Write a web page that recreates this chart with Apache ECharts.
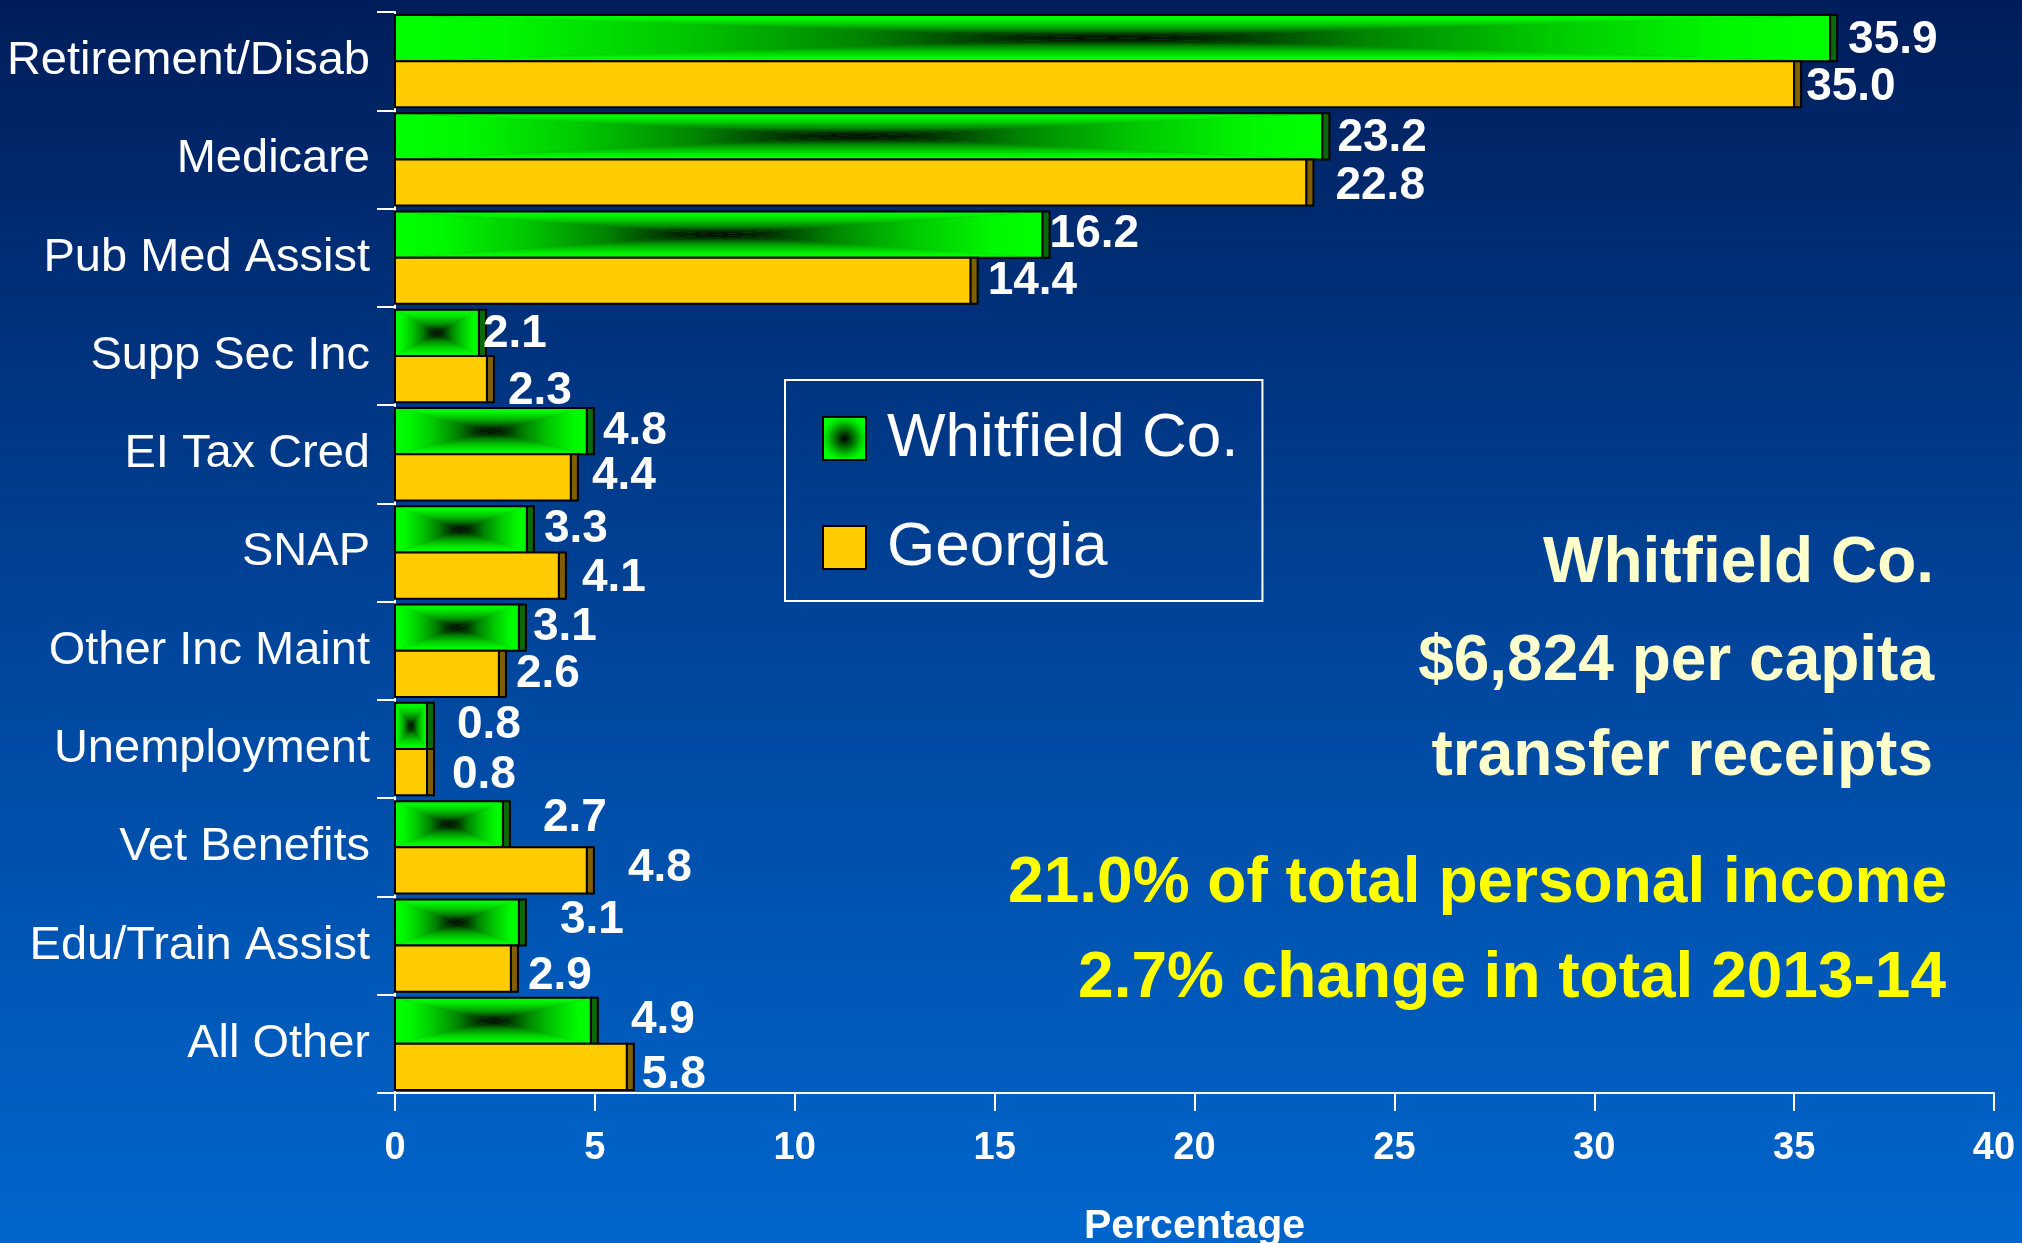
<!DOCTYPE html>
<html><head><meta charset="utf-8">
<script src="https://cdn.jsdelivr.net/npm/echarts@6/dist/echarts.min.js"></script>
<style>html,body{margin:0;padding:0;background:#002060;overflow:hidden}#chart{width:2022px;height:1243px}</style>
</head><body><div id="chart"></div>
<script>
// ---- data ----
const categories = ['Retirement/Disab','Medicare','Pub Med Assist','Supp Sec Inc','EI Tax Cred','SNAP','Other Inc Maint','Unemployment','Vet Benefits','Edu/Train Assist','All Other'];
const whitfield = [35.9, 23.2, 16.2, 2.1, 4.8, 3.3, 3.1, 0.8, 2.7, 3.1, 4.9];
const georgia   = [35.0, 22.8, 14.4, 2.3, 4.4, 4.1, 2.6, 0.8, 4.8, 2.9, 5.8];
const seriesNames = ['Whitfield Co.', 'Georgia'];
const axisName = 'Percentage';
const noteLines = ['Whitfield Co.', '$6,824 per capita', 'transfer receipts'];
const statLines = ['21.0% of total personal income', '2.7% change in total 2013-14'];

// ---- label nudges (px, relative to bar end) ----
const nudgeWhitfield = [[11,2],[8,2],[0,0],[-3,1],[9,0],[10,0],[7,0],[23,-1],[33,-6],[34,-2],[33,0]];
const nudgeGeorgia   = [[5,3],[22,4],[10,1],[14,12],[14,-1],[16,3],[10,0],[18,3],[34,-2],[10,8],[8,8]];

const NARROW = "'Liberation Sans Narrow','Arial Narrow','Liberation Sans',Arial,sans-serif";
const SANS = "'Liberation Sans',Arial,Helvetica,sans-serif";

const greenStops = [
  {offset:0, color:'#00ff00'}, {offset:0.15, color:'#00f800'}, {offset:0.4, color:'#00c800'},
  {offset:0.65, color:'#008400'}, {offset:0.85, color:'#003000'}, {offset:1, color:'#000000'}
];
function lin(x, y, x2, y2) {
  return {type:'linear', x:x, y:y, x2:x2, y2:y2, global:true, colorStops:greenStops};
}

function makeRender(kind, nudges) {
  return function (params, api) {
    const v = api.value(0);
    const ci = api.value(1);
    const base = api.coord([0, ci]);
    const end = api.coord([v, ci]);
    const B = api.size([0, 1])[1];
    const cy = base[1];
    const h = 0.47 * B;
    const top = kind === 'g' ? cy - h : cy;
    const bot = top + h;
    const x0 = base[0], x1 = end[0];
    const cx = (x0 + x1) / 2, cyb = (top + bot) / 2;
    const depth = 7;
    const children = [];
    if (kind === 'g') {
      children.push({type:'rect', shape:{x:x0, y:top, width:x1-x0, height:h}, style:{fill:'#00a000'}});
      children.push({type:'polygon', shape:{points:[[x0,top],[x1,top],[cx,cyb]]}, style:{fill:lin(cx,top,cx,cyb)}});
      children.push({type:'polygon', shape:{points:[[x0,bot],[x1,bot],[cx,cyb]]}, style:{fill:lin(cx,bot,cx,cyb)}});
      children.push({type:'polygon', shape:{points:[[x0,top],[x0,bot],[cx,cyb]]}, style:{fill:lin(x0,cyb,cx,cyb)}});
      children.push({type:'polygon', shape:{points:[[x1,top],[x1,bot],[cx,cyb]]}, style:{fill:lin(x1,cyb,cx,cyb)}});
    } else {
      children.push({type:'rect', shape:{x:x0, y:top, width:x1-x0, height:h}, style:{fill:'#ffcc00'}});
    }
    children.push({type:'rect', shape:{x:x0, y:top, width:x1-x0, height:h}, style:{fill:'none', stroke:'#000', lineWidth:2}});
    children.push({type:'rect', shape:{x:x1, y:top, width:depth, height:h},
      style:{fill: kind === 'g' ? '#0a6a0a' : '#7f6000', stroke:'#000', lineWidth:2}});
    const nd = nudges[params.dataIndex] || [0,0];
    children.push({type:'text', z2:100, x: x1 + depth + nd[0], y: cyb + nd[1],
      style:{text: v.toFixed(1), fill:'#fff', font:'bold 46px ' + SANS, align:'left', verticalAlign:'middle'}});
    return {type:'group', children: children};
  };
}

const chart = echarts.init(document.getElementById('chart'), null, {renderer:'canvas'});
const option = {
  animation: false,
  backgroundColor: {type:'linear', x:0, y:0, x2:0, y2:1,
    colorStops:[{offset:0, color:'#001d5a'}, {offset:0.5, color:'#00449a'}, {offset:1, color:'#0066cc'}]},
  grid: {left:395, right:28, top:12, bottom:150, containLabel:false, outerBoundsMode:'none'},
  xAxis: {
    type:'value', min:0, max:40, interval:5,
    name: axisName, nameLocation:'middle', nameGap:113,
    nameTextStyle:{color:'#fff', fontSize:41, fontWeight:'bold', fontFamily:SANS},
    axisLine:{show:true, lineStyle:{color:'#fff', width:2}},
    axisTick:{show:true, length:18, lineStyle:{color:'#fff', width:2}},
    axisLabel:{color:'#fff', fontSize:38, fontWeight:'bold', fontFamily:SANS, margin:37},
    splitLine:{show:false}
  },
  yAxis: {
    type:'category', data: categories, inverse:true,
    axisLine:{show:true, lineStyle:{color:'#fff', width:2}},
    axisTick:{show:true, length:18, lineStyle:{color:'#fff', width:2}},
    axisLabel:{color:'#fff', fontSize:47, fontFamily:NARROW, margin:25},
    splitLine:{show:false}
  },
  legend: {
    orient:'vertical', left:785, top:380, padding:[23,24,18,37], itemGap:38,
    itemWidth:43, itemHeight:43, borderColor:'#ffffff', borderWidth:2,
    selectedMode:false,
    textStyle:{color:'#fff', fontSize:62, lineHeight:71, fontFamily:NARROW, padding:[0,0,0,16]},
    data:[
      {name: seriesNames[0], icon:'rect', itemStyle:{color:{type:'radial', x:0.5, y:0.5, r:0.5,
        colorStops:[{offset:0,color:'#000'},{offset:0.35,color:'#006000'},{offset:0.75,color:'#00d000'},{offset:1,color:'#00ff00'}]},
        borderColor:'#000', borderWidth:2}},
      {name: seriesNames[1], icon:'rect', itemStyle:{color:'#ffcc00', borderColor:'#000', borderWidth:2}}
    ]
  },
  series: [
    {name: seriesNames[0], type:'custom', encode:{x:0, y:1}, itemStyle:{color:'#00ff00'},
     data: whitfield.map((v, i) => [v, i]), renderItem: makeRender('g', nudgeWhitfield)},
    {name: seriesNames[1], type:'custom', encode:{x:0, y:1}, itemStyle:{color:'#ffcc00'},
     data: georgia.map((v, i) => [v, i]), renderItem: makeRender('y', nudgeGeorgia)}
  ],
  graphic: [
    {type:'text', x:1934, y:564, style:{text:noteLines[0], fill:'#ffffcc', font:'bold 64px ' + SANS, align:'right', verticalAlign:'middle'}},
    {type:'text', x:1934, y:662, style:{text:noteLines[1], fill:'#ffffcc', font:'bold 64px ' + SANS, align:'right', verticalAlign:'middle'}},
    {type:'text', x:1933, y:757, style:{text:noteLines[2], fill:'#ffffcc', font:'bold 64px ' + SANS, align:'right', verticalAlign:'middle'}},
    {type:'text', x:1947, y:884, style:{text:statLines[0], fill:'#ffff00', font:'bold 64px ' + SANS, align:'right', verticalAlign:'middle'}},
    {type:'text', x:1946, y:979, style:{text:statLines[1], fill:'#ffff00', font:'bold 64px ' + SANS, align:'right', verticalAlign:'middle'}}
  ]
};
chart.setOption(option);
</script>
</body></html>
